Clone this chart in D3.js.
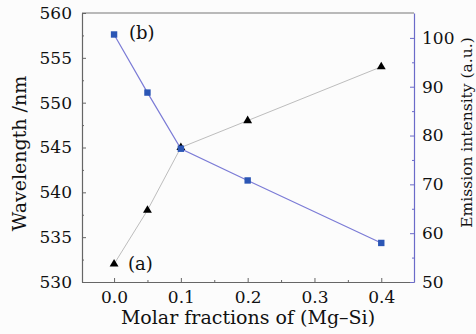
<!DOCTYPE html>
<html>
<head>
<meta charset="utf-8">
<script src="https://cdn.jsdelivr.net/npm/d3@7"></script>
<style>
  body { margin: 0; background: #fcfcfc; }
  svg text { font-family: "DejaVu Serif", "Liberation Serif", serif !important; }
</style>
</head>
<body>
<div id="chart"></div>
<script>
// molar fraction of (Mg-Si)
var fractions = [0.0, 0.05, 0.1, 0.2, 0.4];
// (a) peak wavelength, nm
var wavelength = [532, 538, 545, 548, 554];
// (b) emission intensity, a.u.
var intensity = [100.7, 88.8, 77.3, 70.8, 58.0];
var xTicks = [0.0, 0.1, 0.2, 0.3, 0.4];

var width = 476, height = 334;
var margin = {top: 13, right: 62, bottom: 52, left: 82};

var svg = d3.select("#chart").append("svg")
    .attr("width", width)
    .attr("height", height);

var x = d3.scaleLinear().domain([-0.048, 0.449]).range([margin.left, width - margin.right]);
var yL = d3.scaleLinear().domain([530, 560]).range([height - margin.bottom, margin.top]);
var yR = d3.scaleLinear().domain([50, 105.1]).range([height - margin.bottom, margin.top]);

var blue = "#6b6bc9";
var grey = "#666";

// frame top line
svg.append("line")
    .attr("x1", margin.left).attr("x2", width - margin.right)
    .attr("y1", margin.top).attr("y2", margin.top)
    .attr("stroke", "#777").attr("stroke-width", 1.2);

// bottom axis
svg.append("g")
    .attr("transform", `translate(0,${height - margin.bottom})`)
    .call(d3.axisBottom(x).tickValues(xTicks).tickSizeInner(-4).tickSizeOuter(0)
      .tickFormat(d3.format(".1f")).tickPadding(9));
svg.append("g")
    .attr("transform", `translate(0,${height - margin.bottom})`)
    .call(d3.axisBottom(x).tickValues([0.05, 0.15, 0.25, 0.35]).tickSizeInner(-2).tickSizeOuter(0).tickFormat(""))
    .select(".domain").remove();

// left axis
svg.append("g")
    .attr("transform", `translate(${margin.left},0)`)
    .call(d3.axisLeft(yL).ticks(6).tickSizeInner(-4).tickSizeOuter(0).tickPadding(10));
svg.append("g")
    .attr("transform", `translate(${margin.left},0)`)
    .call(d3.axisLeft(yL).tickValues(d3.range(532.5, 560, 5)).tickSizeInner(-2).tickSizeOuter(0).tickFormat(""))
    .select(".domain").remove();

// right axis
svg.append("g")
    .attr("class", "raxis")
    .attr("transform", `translate(${width - margin.right},0)`)
    .call(d3.axisRight(yR).tickValues(d3.range(50, 101, 10)).tickSizeInner(-4).tickSizeOuter(0).tickPadding(8));
svg.append("g")
    .attr("class", "raxis")
    .attr("transform", `translate(${width - margin.right},0)`)
    .call(d3.axisRight(yR).tickValues(d3.range(55, 101, 10)).tickSizeInner(-2).tickSizeOuter(0).tickFormat(""))
    .select(".domain").remove();

svg.selectAll(".domain").attr("stroke", grey).attr("stroke-width", 1.2);
svg.selectAll(".tick line").attr("stroke", grey);
svg.selectAll(".raxis .domain, .raxis .tick line").attr("stroke", blue);
svg.selectAll(".tick text").attr("font-size", 17).attr("fill", "#111");

// series (a): wavelength
svg.append("path")
    .datum(fractions.map((f, i) => [f, wavelength[i]]))
    .attr("fill", "none").attr("stroke", "#bdbdbd").attr("stroke-width", 1)
    .attr("d", d3.line().x(d => x(d[0])).y(d => yL(d[1])));

// series (b): intensity
svg.append("path")
    .datum(fractions.map((f, i) => [f, intensity[i]]))
    .attr("fill", "none").attr("stroke", "#7b7bd6").attr("stroke-width", 1.2)
    .attr("d", d3.line().x(d => x(d[0])).y(d => yR(d[1])));

svg.selectAll(".tri")
    .data(fractions.map((f, i) => [f, wavelength[i]]))
    .enter().append("path")
    .attr("class", "tri")
    .attr("d", d3.symbol().type(d3.symbolTriangle).size(34))
    .attr("transform", d => `translate(${x(d[0])},${yL(d[1])})`)
    .attr("fill", "#000");

svg.selectAll(".sq")
    .data(fractions.map((f, i) => [f, intensity[i]]))
    .enter().append("rect")
    .attr("class", "sq")
    .attr("x", d => x(d[0]) - 3.2).attr("y", d => yR(d[1]) - 3.2)
    .attr("width", 6.4).attr("height", 6.4)
    .attr("fill", "#2b56b5");

// series labels
svg.append("text").attr("x", x(0) + 14).attr("y", yL(532) + 6)
    .attr("font-size", 18).attr("fill", "#111").text("(a)");
svg.append("text").attr("x", x(0) + 15).attr("y", yR(intensity[0]) + 5)
    .attr("font-size", 18).attr("fill", "#111").text("(b)");

// axis titles
svg.append("text")
    .attr("transform", `translate(26,${(margin.top + height - margin.bottom) / 2 + 6}) rotate(-90)`)
    .attr("text-anchor", "middle").attr("font-size", 19).attr("fill", "#111")
    .text("Wavelength /nm");
svg.append("text")
    .attr("transform", `translate(472,${(margin.top + height - margin.bottom) / 2 - 15}) rotate(-90)`)
    .attr("text-anchor", "middle").attr("font-size", 15.5).attr("fill", "#111")
    .text("Emission intensity (a.u.)");
svg.append("text")
    .attr("x", (margin.left + width - margin.right) / 2)
    .attr("y", 324)
    .attr("text-anchor", "middle").attr("font-size", 19).attr("fill", "#111")
    .text("Molar fractions of (Mg–Si)");
</script>
</body>
</html>
